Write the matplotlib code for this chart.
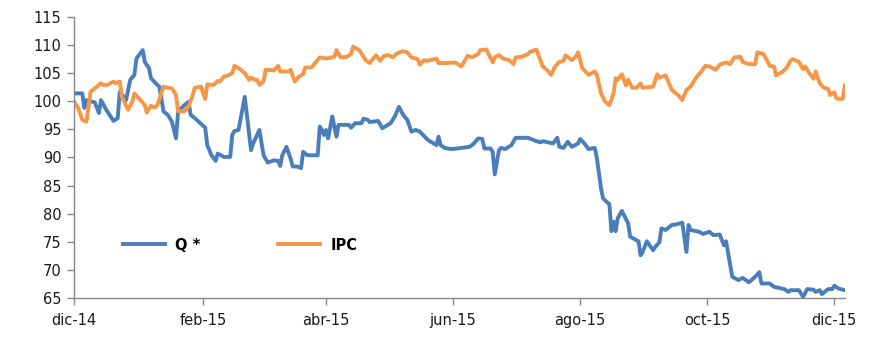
import numpy as np
import pandas as pd
import matplotlib
matplotlib.use("Agg")
import matplotlib.pyplot as plt

# Q* series (index, base dic-14)
q_dates = ["2014-12-01", "2014-12-05", "2014-12-06", "2014-12-07", "2014-12-11", "2014-12-13",
           "2014-12-14", "2014-12-16", "2014-12-17", "2014-12-20", "2014-12-22", "2014-12-23",
           "2014-12-26", "2014-12-28", "2014-12-30", "2014-12-31", "2015-01-03", "2015-01-04",
           "2015-01-06", "2015-01-07", "2015-01-10", "2015-01-11", "2015-01-13", "2015-01-15",
           "2015-01-17", "2015-01-19", "2015-01-20", "2015-01-23", "2015-01-25", "2015-01-26",
           "2015-01-28", "2015-02-02", "2015-02-03", "2015-02-05", "2015-02-07", "2015-02-08",
           "2015-02-11", "2015-02-14", "2015-02-15", "2015-02-16", "2015-02-18", "2015-02-21",
           "2015-02-24", "2015-02-25", "2015-02-28", "2015-03-02", "2015-03-04", "2015-03-07",
           "2015-03-09", "2015-03-10", "2015-03-11", "2015-03-13", "2015-03-15", "2015-03-16",
           "2015-03-18", "2015-03-20", "2015-03-21", "2015-03-23", "2015-03-28", "2015-03-29",
           "2015-03-30", "2015-03-31", "2015-04-01", "2015-04-02", "2015-04-04", "2015-04-06",
           "2015-04-07", "2015-04-12", "2015-04-13", "2015-04-15", "2015-04-18", "2015-04-19",
           "2015-04-21", "2015-04-22", "2015-04-26", "2015-04-28", "2015-05-02", "2015-05-04",
           "2015-05-06", "2015-05-08", "2015-05-10", "2015-05-12", "2015-05-14", "2015-05-16",
           "2015-05-20", "2015-05-24", "2015-05-25", "2015-05-26", "2015-05-28", "2015-05-31",
           "2015-06-03", "2015-06-09", "2015-06-11", "2015-06-13", "2015-06-15", "2015-06-16",
           "2015-06-19", "2015-06-20", "2015-06-21", "2015-06-23", "2015-06-24", "2015-06-26",
           "2015-06-29", "2015-07-01", "2015-07-07", "2015-07-11", "2015-07-13", "2015-07-14",
           "2015-07-19", "2015-07-21", "2015-07-22", "2015-07-24", "2015-07-26", "2015-07-28",
           "2015-07-31", "2015-08-01", "2015-08-03", "2015-08-05", "2015-08-08", "2015-08-09",
           "2015-08-11", "2015-08-12", "2015-08-15", "2015-08-16", "2015-08-17", "2015-08-18",
           "2015-08-19", "2015-08-21", "2015-08-24", "2015-08-25", "2015-08-29", "2015-08-30",
           "2015-08-31", "2015-09-02", "2015-09-05", "2015-09-06", "2015-09-08", "2015-09-09",
           "2015-09-11", "2015-09-14", "2015-09-16", "2015-09-19", "2015-09-21", "2015-09-22",
           "2015-09-23", "2015-09-27", "2015-09-29", "2015-10-02", "2015-10-04", "2015-10-07",
           "2015-10-09", "2015-10-10", "2015-10-13", "2015-10-16", "2015-10-18", "2015-10-21",
           "2015-10-24", "2015-10-26", "2015-10-27", "2015-10-31", "2015-11-02", "2015-11-07",
           "2015-11-09", "2015-11-10", "2015-11-14", "2015-11-16", "2015-11-18", "2015-11-21",
           "2015-11-22", "2015-11-24", "2015-11-25", "2015-11-28", "2015-11-30", "2015-12-01",
           "2015-12-03", "2015-12-06"]
q_vals = [101.4, 101.4, 98.8, 100.2, 99.8, 97.9,
          100.2, 98.8, 98.2, 96.5, 97.0, 101.7,
          100.2, 103.8, 104.7, 107.6, 109.1, 107.0,
          105.9, 104.1, 102.9, 102.6, 98.2, 97.6,
          96.4, 93.4, 98.2, 99.3, 99.9, 97.6,
          97.0, 95.3, 92.2, 90.4, 89.4, 90.7,
          90.1, 90.1, 94.0, 94.7, 94.9, 100.8,
          91.3, 92.5, 94.9, 90.4, 89.1, 89.5,
          89.4, 88.5, 90.4, 91.9, 89.8, 88.4,
          88.4, 88.1, 91.0, 90.4, 90.4, 95.5,
          94.9, 94.0, 94.9, 93.4, 97.3, 93.7,
          95.8, 95.8, 95.3, 96.1, 96.1, 96.9,
          96.7, 96.3, 96.5, 95.2, 96.1, 97.3,
          99.0, 97.6, 96.7, 94.6, 94.9, 94.6,
          93.1, 92.2, 93.7, 92.2, 91.7, 91.5,
          91.6, 91.9, 92.5, 93.4, 93.3, 91.6,
          91.6, 91.0, 87.0, 91.3, 91.7, 91.5,
          92.2, 93.5, 93.5, 92.9, 92.7, 92.9,
          92.5, 93.5, 91.9, 91.7, 92.8, 91.9,
          92.5, 93.3, 92.5, 91.5, 91.7, 89.9,
          84.5, 82.7, 81.7, 76.9, 78.6, 76.9,
          79.2, 80.5, 78.3, 75.9, 75.1, 72.6,
          73.2, 75.1, 73.5, 74.1, 74.9, 77.4,
          77.1, 78.0, 78.1, 78.4, 73.2, 78.0,
          77.1, 76.8, 76.4, 76.8, 76.2, 76.3,
          74.4, 75.1, 68.8, 68.2, 68.6, 67.8,
          68.8, 69.6, 67.6, 67.6, 67.0, 66.6,
          66.1, 66.4, 66.4, 65.2, 66.6, 66.5,
          66.1, 66.4, 65.7, 66.6, 66.6, 67.2,
          66.7, 66.4]

# IPC series (index, base dic-14 = 100)
ipc_dates = ["2014-12-01", "2014-12-03", "2014-12-05", "2014-12-07", "2014-12-09", "2014-12-11",
             "2014-12-14", "2014-12-15", "2014-12-17", "2014-12-20", "2014-12-21", "2014-12-23",
             "2014-12-24", "2014-12-27", "2014-12-29", "2014-12-30", "2015-01-02", "2015-01-04",
             "2015-01-05", "2015-01-07", "2015-01-09", "2015-01-10", "2015-01-13", "2015-01-15",
             "2015-01-17", "2015-01-19", "2015-01-20", "2015-01-23", "2015-01-25", "2015-01-27",
             "2015-01-28", "2015-01-31", "2015-02-02", "2015-02-03", "2015-02-06", "2015-02-08",
             "2015-02-09", "2015-02-11", "2015-02-13", "2015-02-15", "2015-02-16", "2015-02-18",
             "2015-02-21", "2015-02-23", "2015-02-24", "2015-02-26", "2015-02-27", "2015-02-28",
             "2015-03-02", "2015-03-03", "2015-03-07", "2015-03-09", "2015-03-10", "2015-03-14",
             "2015-03-15", "2015-03-17", "2015-03-19", "2015-03-21", "2015-03-22", "2015-03-25",
             "2015-03-27", "2015-03-29", "2015-04-01", "2015-04-05", "2015-04-06", "2015-04-08",
             "2015-04-11", "2015-04-13", "2015-04-14", "2015-04-17", "2015-04-18", "2015-04-20",
             "2015-04-22", "2015-04-23", "2015-04-25", "2015-04-27", "2015-04-29", "2015-05-01",
             "2015-05-03", "2015-05-05", "2015-05-08", "2015-05-10", "2015-05-12", "2015-05-15",
             "2015-05-16", "2015-05-18", "2015-05-20", "2015-05-24", "2015-05-25", "2015-05-29",
             "2015-06-02", "2015-06-05", "2015-06-08", "2015-06-10", "2015-06-13", "2015-06-14",
             "2015-06-17", "2015-06-20", "2015-06-21", "2015-06-23", "2015-06-25", "2015-06-28",
             "2015-06-30", "2015-07-01", "2015-07-04", "2015-07-07", "2015-07-08", "2015-07-11",
             "2015-07-12", "2015-07-14", "2015-07-16", "2015-07-18", "2015-07-20", "2015-07-22",
             "2015-07-24", "2015-07-25", "2015-07-28", "2015-07-30", "2015-07-31", "2015-08-02",
             "2015-08-05", "2015-08-08", "2015-08-09", "2015-08-11", "2015-08-13", "2015-08-15",
             "2015-08-17", "2015-08-18", "2015-08-19", "2015-08-21", "2015-08-23", "2015-08-24",
             "2015-08-26", "2015-08-28", "2015-08-30", "2015-08-31", "2015-09-05", "2015-09-07",
             "2015-09-08", "2015-09-11", "2015-09-14", "2015-09-17", "2015-09-19", "2015-09-21",
             "2015-09-23", "2015-09-26", "2015-09-28", "2015-09-30", "2015-10-02", "2015-10-05",
             "2015-10-07", "2015-10-10", "2015-10-12", "2015-10-14", "2015-10-17", "2015-10-18",
             "2015-10-21", "2015-10-24", "2015-10-25", "2015-10-28", "2015-10-31", "2015-11-02",
             "2015-11-03", "2015-11-06", "2015-11-08", "2015-11-10", "2015-11-11", "2015-11-14",
             "2015-11-16", "2015-11-17", "2015-11-19", "2015-11-21", "2015-11-22", "2015-11-24",
             "2015-11-26", "2015-11-28", "2015-11-29", "2015-12-01", "2015-12-02", "2015-12-05",
             "2015-12-06"]
ipc_vals = [100.0, 98.8, 96.7, 96.4, 101.7, 102.3,
            103.2, 102.9, 102.9, 103.5, 103.2, 103.5,
            100.8, 98.5, 99.9, 101.4, 100.2, 99.3,
            98.0, 99.2, 98.9, 99.3, 102.6, 102.4,
            102.3, 101.1, 98.2, 98.2, 99.0, 101.1,
            102.4, 102.6, 100.4, 103.0, 102.9, 103.6,
            103.5, 104.4, 104.6, 105.0, 106.3, 105.9,
            105.0, 103.8, 104.2, 103.8, 103.8, 102.9,
            103.5, 105.6, 105.5, 106.3, 105.3, 105.3,
            105.6, 103.5, 104.4, 104.8, 106.0, 106.0,
            106.9, 107.8, 107.6, 107.9, 109.1, 107.8,
            107.9, 108.4, 109.7, 109.1, 108.5, 107.3,
            106.8, 107.3, 108.2, 107.2, 108.1, 108.2,
            107.8, 108.5, 108.9, 108.7, 107.8, 107.5,
            106.5, 107.3, 107.2, 107.6, 106.8, 106.8,
            106.9, 106.2, 108.1, 107.8, 108.4, 109.1,
            109.2, 106.9, 107.8, 108.2, 107.6, 107.3,
            106.6, 107.8, 107.9, 108.4, 108.8, 109.2,
            108.2, 106.2, 105.6, 104.7, 106.2, 107.0,
            107.2, 108.2, 107.3, 108.0, 108.7, 105.9,
            104.7, 105.3, 104.7, 101.4, 99.9, 99.3,
            101.4, 104.1, 103.8, 104.8, 102.8, 103.8,
            102.4, 102.4, 103.2, 102.4, 102.6, 104.8,
            104.2, 104.6, 102.0, 101.1, 100.2, 102.0,
            102.6, 104.4, 105.2, 106.3, 106.2, 105.6,
            106.5, 106.9, 106.6, 107.8, 107.9, 107.0,
            106.6, 106.6, 108.7, 108.4, 106.3, 106.2,
            104.6, 105.2, 105.9, 107.2, 107.5, 107.0,
            105.7, 106.2, 105.0, 104.0, 105.3, 103.2,
            102.4, 102.2, 101.1, 101.6, 100.5, 100.4,
            102.8]

tick_dates = ["2014-12-01", "2015-02-01", "2015-04-01", "2015-06-01",
              "2015-08-01", "2015-10-01", "2015-12-01"]
tick_labels = ["dic-14", "feb-15", "abr-15", "jun-15", "ago-15", "oct-15", "dic-15"]
y_ticks = list(range(65, 116, 5))

plt.rcParams['font.family'] = ['DejaVu Sans']

fig = plt.figure(figsize=(8.7, 3.45), dpi=100)
ax = fig.add_axes([0.085, 0.136, 0.886, 0.815])

ax.plot(pd.to_datetime(q_dates), q_vals, color='#4A7EBB', lw=2.8,
        solid_joinstyle='round', label='Q *')
ax.plot(pd.to_datetime(ipc_dates), ipc_vals, color='#F79646', lw=2.8,
        solid_joinstyle='round', label='IPC')

ax.set_xlim(pd.Timestamp("2014-12-01"), pd.Timestamp("2015-12-06"))
ax.set_ylim(65, 115)
ax.set_yticks(y_ticks)
ax.set_xticks(pd.to_datetime(tick_dates))
ax.set_xticklabels(tick_labels)

for s in ['top', 'right']:
    ax.spines[s].set_visible(False)
for s in ['left', 'bottom']:
    ax.spines[s].set_color('#898989')
    ax.spines[s].set_linewidth(1.0)
ax.tick_params(axis='both', colors='#898989', labelcolor='#1a1a1a',
               labelsize=10.5, length=5, width=1.0, direction='out')
ax.tick_params(axis='x', pad=6)
ax.tick_params(axis='y', pad=4)

leg = ax.legend(loc='center left', bbox_to_anchor=(0.0636, 0.1886), ncol=2,
                frameon=False, borderpad=0, borderaxespad=0,
                handlelength=2.9, handletextpad=0.7, columnspacing=5.3,
                prop={'weight': 'bold', 'size': 10.5})

fig.savefig('out.png', dpi=100)
